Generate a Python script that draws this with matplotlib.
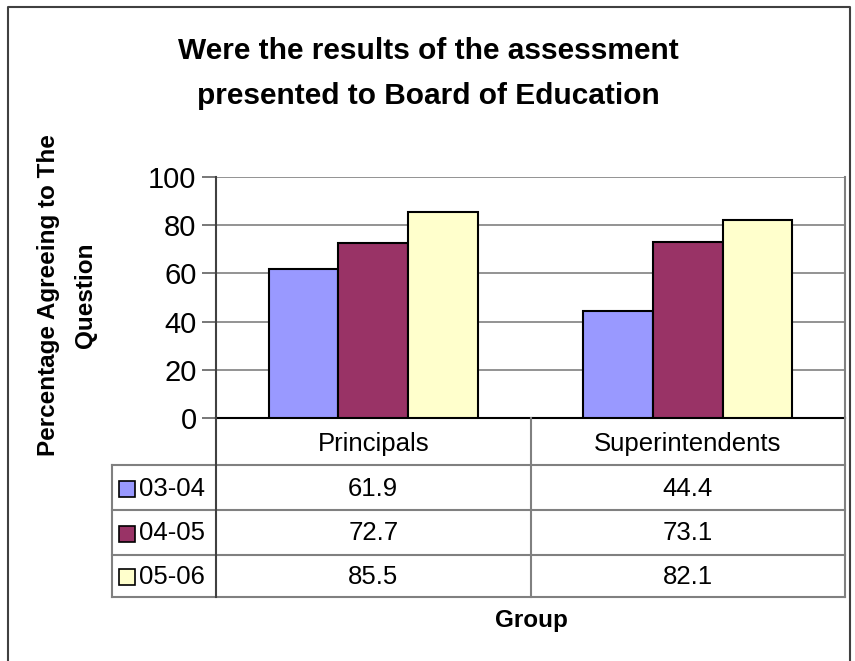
import matplotlib
matplotlib.use("Agg")
import matplotlib.pyplot as plt
from matplotlib.patches import Rectangle
from matplotlib.lines import Line2D
import numpy as np

# ---- data ----
categories = ["Principals", "Superintendents"]
series_names = ["03-04", "04-05", "05-06"]
values_0304 = [61.9, 44.4]
values_0405 = [72.7, 73.1]
values_0506 = [85.5, 82.1]
yticks = [0, 20, 40, 60, 80, 100]
title_lines = ["Were the results of the assessment", "presented to Board of Education"]
ylabel_lines = ["Percentage Agreeing to The", "Question"]
xlabel = "Group"

series_values = [values_0304, values_0405, values_0506]
colors = ["#9999FF", "#993366", "#FFFFCC"]

plt.rcParams['font.family'] = ['Liberation Sans', 'DejaVu Sans']

W, H = 855, 661
fig = plt.figure(figsize=(W / 100, H / 100), dpi=100)

def fx(px):
    return px / W

def fy(py):
    return 1 - py / H

# plot area in pixels
L, R, T, B = 216, 845, 177, 418
ax = fig.add_axes([fx(L), fy(B), fx(R) - fx(L), fy(T) - fy(B)])

n = len(series_names)
x = np.arange(len(categories))
bw = 0.222
for i, (name, vals, c) in enumerate(zip(series_names, series_values, colors)):
    ax.bar(x + (i - (n - 1) / 2) * bw, vals, width=bw, color=c, edgecolor="black",
           linewidth=1.5, zorder=3, label=name)

ax.set_xlim(-0.5, len(categories) - 0.5)
ax.set_ylim(0, 100)
ax.set_yticks(yticks)
ax.set_yticklabels([str(t) for t in yticks], fontsize=21)
ax.set_xticks([])
ax.yaxis.grid(True, color="#808080", linewidth=1.2, zorder=0)
ax.tick_params(axis="y", length=10, width=1.2, color="#606060", pad=4)
ax.spines["top"].set_visible(False)
ax.spines["right"].set_color("#808080")
ax.spines["right"].set_linewidth(1.5)
ax.spines["left"].set_color("#404040")
ax.spines["left"].set_linewidth(1.5)
ax.spines["bottom"].set_color("black")
ax.spines["bottom"].set_linewidth(1.5)

# ---- data table ----
row_tops = [418, 465, 510, 555, 597]
TL = 112
col_edges_px = [L] + [L + (R - L) * (k + 1) / len(categories) for k in range(len(categories))]
gray = "#808080"

def hline(y, x0, x1, color=gray, lw=1.5):
    fig.add_artist(Line2D([fx(x0), fx(x1)], [fy(y), fy(y)], color=color, lw=lw))

def vline(xp, y0, y1, color=gray, lw=1.5):
    fig.add_artist(Line2D([fx(xp), fx(xp)], [fy(y0), fy(y1)], color=color, lw=lw))

for yy in row_tops[1:]:
    hline(yy, TL, R)
vline(TL, row_tops[1], row_tops[-1])
for xe in col_edges_px[1:-1]:
    vline(xe, row_tops[0], row_tops[-1])
vline(L, row_tops[0], row_tops[-1], color="#404040")
vline(R, row_tops[0], row_tops[-1])

FS = 18.5
# category header
for k, cat in enumerate(categories):
    cx = (col_edges_px[k] + col_edges_px[k + 1]) / 2
    fig.text(fx(cx), fy((row_tops[0] + row_tops[1]) / 2 + 2), cat, ha="center", va="center",
             fontsize=FS)

# rows
for r, (name, vals, c) in enumerate(zip(series_names, series_values, colors)):
    yc = (row_tops[r + 1] + row_tops[r + 2]) / 2
    fig.add_artist(Rectangle((fx(119), fy(yc + 9)), fx(16), 16 / H, facecolor=c,
                             edgecolor="black", lw=1.2))
    fig.text(fx(139), fy(yc + 1), name, ha="left", va="center", fontsize=FS)
    for k, v in enumerate(vals):
        cx = (col_edges_px[k] + col_edges_px[k + 1]) / 2
        fig.text(fx(cx), fy(yc + 1), f"{v:.1f}", ha="center", va="center", fontsize=FS)

# labels
fig.text(fx(531), fy(620), xlabel, ha="center", va="center", fontsize=17.5, fontweight="bold")
for xpos, line in zip([48, 85], ylabel_lines):
    fig.text(fx(xpos), fy(295), line, ha="center", va="center", rotation=90, fontsize=17.5,
             fontweight="bold")
for ypos, line in zip([51, 96], title_lines):
    fig.text(fx(428), fy(ypos), line, ha="center", va="center", fontsize=21.5,
             fontweight="bold")

# outer frame
fig.add_artist(Line2D([fx(8), fx(8), fx(850), fx(850)], [0, fy(7), fy(7), 0],
                      color="#404040", lw=1.5))

fig.savefig("out.png", dpi=100)
